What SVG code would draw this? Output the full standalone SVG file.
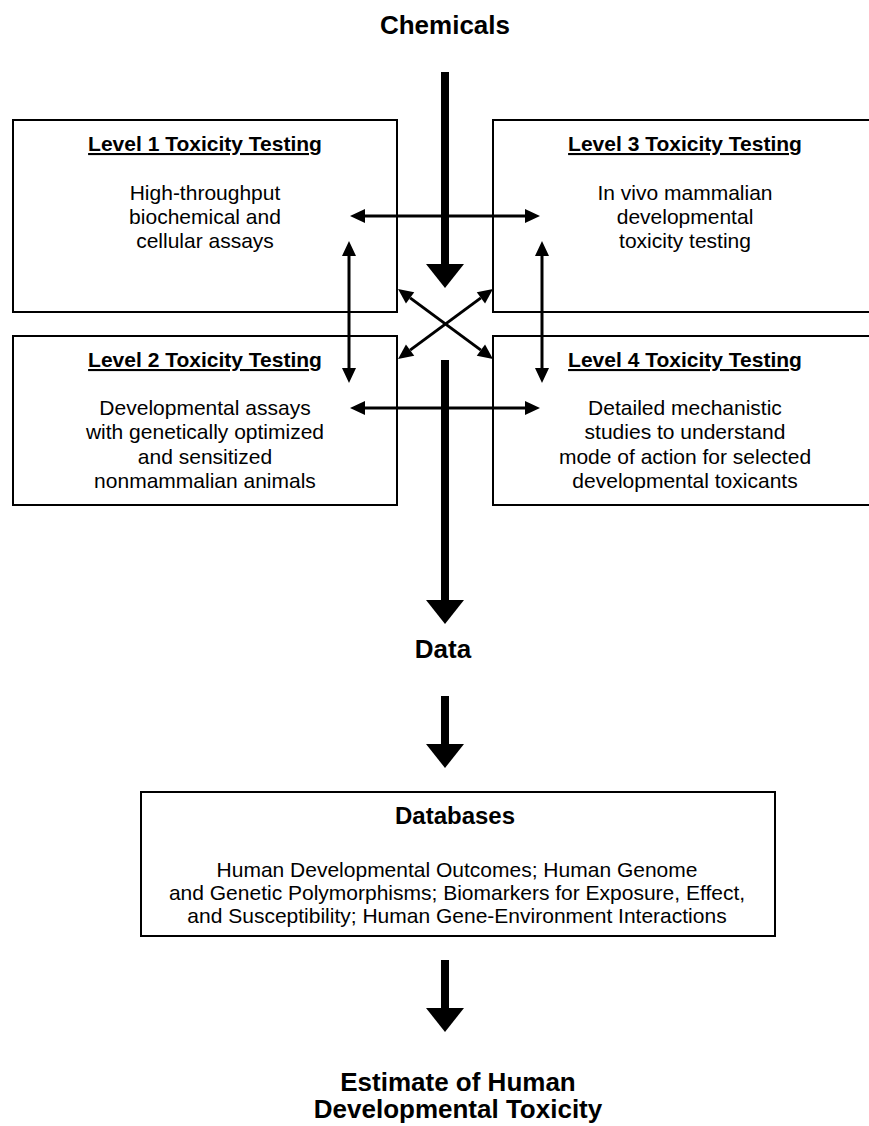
<svg xmlns="http://www.w3.org/2000/svg" width="869" height="1126" viewBox="0 0 869 1126">
  <defs>
    <marker id="thinHead" markerUnits="userSpaceOnUse" markerWidth="16" markerHeight="16" viewBox="0 -8 16 16" refX="0" refY="0" orient="auto-start-reverse" overflow="visible">
      <path d="M0,-7 L15,0 L0,7 Z" fill="#000"/>
    </marker>
    <marker id="bigHead" markerUnits="userSpaceOnUse" markerWidth="26" markerHeight="40" viewBox="0 -20 26 40" refX="0" refY="0" orient="auto" overflow="visible">
      <path d="M0,-19 L24,0 L0,19 Z" fill="#000"/>
    </marker>
    <style>
      .box { fill: #fff; stroke: #000; stroke-width: 2; }
      .title { font-family: "Liberation Sans", Arial, sans-serif; font-weight: bold; font-size: 21px; text-anchor: middle; text-decoration: underline; fill: #000; }
      .body { font-family: "Liberation Sans", Arial, sans-serif; font-size: 21px; text-anchor: middle; fill: #000; }
      .big { font-family: "Liberation Sans", Arial, sans-serif; font-weight: bold; font-size: 26px; text-anchor: middle; fill: #000; }
      .dbtitle { font-family: "Liberation Sans", Arial, sans-serif; font-weight: bold; font-size: 24px; text-anchor: middle; fill: #000; }
      .thin { stroke: #000; stroke-width: 3; fill: none; marker-start: url(#thinHead); marker-end: url(#thinHead); }
      .thick { stroke: #000; stroke-width: 8; fill: none; marker-end: url(#bigHead); }
    </style>
  </defs>
  <rect width="869" height="1126" fill="#fff"/>

  <g id="chemicals">
    <text class="big" x="445" y="34">Chemicals</text>
  </g>

  <g id="level1">
    <rect class="box" x="13" y="120" width="384" height="192"/>
    <text class="title" x="205" y="151">Level 1 Toxicity Testing</text>
    <text class="body" x="205" y="200">High-throughput</text>
    <text class="body" x="205" y="224">biochemical and</text>
    <text class="body" x="205" y="248">cellular assays</text>
  </g>

  <g id="level3">
    <rect class="box" x="493" y="120" width="384" height="192"/>
    <text class="title" x="685" y="151">Level 3 Toxicity Testing</text>
    <text class="body" x="685" y="200">In vivo mammalian</text>
    <text class="body" x="685" y="224">developmental</text>
    <text class="body" x="685" y="248">toxicity testing</text>
  </g>

  <g id="level2">
    <rect class="box" x="13" y="336" width="384" height="169"/>
    <text class="title" x="205" y="367">Level 2 Toxicity Testing</text>
    <text class="body" x="205" y="415">Developmental assays</text>
    <text class="body" x="205" y="439">with genetically optimized</text>
    <text class="body" x="205" y="464">and sensitized</text>
    <text class="body" x="205" y="488">nonmammalian animals</text>
  </g>

  <g id="level4">
    <rect class="box" x="493" y="336" width="384" height="169"/>
    <text class="title" x="685" y="367">Level 4 Toxicity Testing</text>
    <text class="body" x="685" y="415">Detailed mechanistic</text>
    <text class="body" x="685" y="439">studies to understand</text>
    <text class="body" x="685" y="464">mode of action for selected</text>
    <text class="body" x="685" y="488">developmental toxicants</text>
  </g>

  <g id="data">
    <text class="big" x="443" y="658">Data</text>
  </g>

  <g id="databases">
    <rect class="box" x="141" y="792" width="634" height="144"/>
    <text class="dbtitle" x="455" y="824">Databases</text>
    <text class="body" x="457" y="877">Human Developmental Outcomes; Human Genome</text>
    <text class="body" x="457" y="900">and Genetic Polymorphisms; Biomarkers for Exposure, Effect,</text>
    <text class="body" x="457" y="923">and Susceptibility; Human Gene-Environment Interactions</text>
  </g>

  <g id="estimate">
    <text class="big" x="458" y="1091">Estimate of Human</text>
    <text class="big" x="458" y="1118">Developmental Toxicity</text>
  </g>

  <g id="connectors">
    <line class="thick" x1="445" y1="72" x2="445" y2="264"/>
    <line class="thick" x1="445" y1="360" x2="445" y2="600"/>
    <line class="thick" x1="445" y1="696" x2="445" y2="744"/>
    <line class="thick" x1="445" y1="960" x2="445" y2="1008"/>
    <line class="thin" x1="365" y1="216" x2="525" y2="216"/>
    <line class="thin" x1="365" y1="408" x2="525" y2="408"/>
    <line class="thin" x1="349" y1="256" x2="349" y2="368"/>
    <line class="thin" x1="542" y1="256" x2="542" y2="368"/>
    <line class="thin" x1="410.1" y1="297.9" x2="480.9" y2="350.1"/>
    <line class="thin" x1="480.9" y1="297.9" x2="410.1" y2="350.1"/>
  </g>
</svg>
